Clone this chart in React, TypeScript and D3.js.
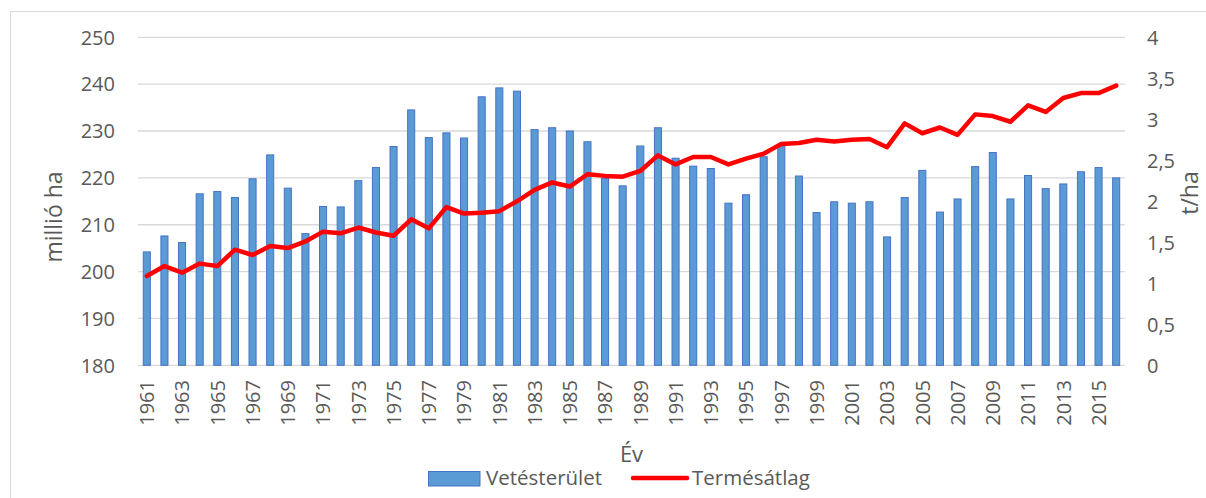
import React from "react";
import * as d3 from "d3";

const years: number[] = d3.range(1961, 2017);
const area: number[] = [
  204.2, 207.6, 206.2, 216.6, 217.1, 215.8, 219.8, 224.9, 217.8, 208.1,
  213.9, 213.8, 219.4, 222.2, 226.7, 234.5, 228.6, 229.6, 228.5, 237.3,
  239.2, 238.5, 230.3, 230.7, 230.0, 227.7, 219.9, 218.3, 226.8, 230.7,
  224.2, 222.5, 222.0, 214.6, 216.4, 224.5, 226.8, 220.4, 212.6, 214.9,
  214.6, 214.9, 207.4, 215.8, 221.6, 212.7, 215.5, 222.4, 225.4, 215.5,
  220.5, 217.7, 218.7, 221.3, 222.2, 220.0,
];
const yieldAvg: number[] = [
  1.09, 1.21, 1.13, 1.24, 1.21, 1.41, 1.345, 1.455, 1.43, 1.51,
  1.63, 1.61, 1.68, 1.62, 1.58, 1.78, 1.67, 1.93, 1.85, 1.86,
  1.88, 2.0, 2.14, 2.23, 2.18, 2.33, 2.31, 2.3, 2.37, 2.56,
  2.45, 2.54, 2.54, 2.45, 2.52, 2.58, 2.7, 2.71, 2.75, 2.73,
  2.75, 2.76, 2.66, 2.95, 2.83, 2.9, 2.81, 3.06, 3.04, 2.97,
  3.17, 3.09, 3.26, 3.32, 3.32, 3.41,
];
const leftTicks: number[] = [180, 190, 200, 210, 220, 230, 240, 250];
const rightTicks: number[] = [0, 0.5, 1, 1.5, 2, 2.5, 3, 3.5, 4];
const labelYears: number[] = years.filter((y) => (y - 1961) % 2 === 0);

const W = 1206;
const H = 498;
const FONT = "'Open Sans', sans-serif";
const TXT = "#595959";

export default function App() {
  const x = d3
    .scaleBand<number>()
    .domain(years)
    .range([138, 1125])
    .paddingInner(0.6)
    .paddingOuter(0.3);
  const yL = d3.scaleLinear().domain([180, 250]).range([365.3, 37.3]);
  const yR = d3.scaleLinear().domain([0, 4]).range([365.3, 37.3]);
  const cx = (yr: number) => (x(yr) as number) + x.bandwidth() / 2;

  const line = d3
    .line<number>()
    .x((_, i) => cx(years[i]))
    .y((d) => yR(d))
    .curve(d3.curveLinear);

  const fmt = (v: number) => String(v).replace(".", ",");

  return (
    <svg
      width={W}
      height={H}
      style={{ position: "absolute", left: 0, top: 0, background: "#fff" }}
      fontFamily={FONT}
    >
      <rect x={10.5} y={11.5} width={W} height={H} fill="#fff" stroke="#d9d9d9" strokeWidth={1} />
      {leftTicks.map((t) => (
        <line key={"g" + t} x1={138} x2={1125} y1={yL(t)} y2={yL(t)} stroke="#d9d9d9" strokeWidth={1.3} />
      ))}
      {leftTicks.map((t) => (
        <text key={"l" + t} x={115} y={yL(t)} dy="0.36em" textAnchor="end" fontSize={20} fill={TXT}>
          {t}
        </text>
      ))}
      {rightTicks.map((t) => (
        <text key={"r" + t} x={1147} y={yR(t)} dy="0.36em" textAnchor="start" fontSize={20} fill={TXT}>
          {fmt(t)}
        </text>
      ))}
      {years.map((yr, i) => (
        <rect
          key={"b" + yr}
          x={x(yr)}
          y={yL(area[i])}
          width={x.bandwidth()}
          height={yL(180) - yL(area[i])}
          fill="#5b9bd5"
          stroke="#4472c4"
          strokeWidth={1}
        />
      ))}
      <path d={line(yieldAvg) || ""} fill="none" stroke="#ff0000" strokeWidth={4.5} strokeLinejoin="round" strokeLinecap="round" />
      {labelYears.map((yr) => (
        <text
          key={"x" + yr}
          transform={`translate(${cx(yr)},380) rotate(-90)`}
          dy="0.36em"
          textAnchor="end"
          fontSize={20}
          fill={TXT}
        >
          {yr}
        </text>
      ))}
      <text x={54} y={217} transform="rotate(-90,54,217)" dy="0.36em" textAnchor="middle" fontSize={23} fill={TXT}>
        millió ha
      </text>
      <text x={1190} y={193} transform="rotate(-90,1190,193)" dy="0.36em" textAnchor="middle" fontSize={23} fill={TXT}>
        t/ha
      </text>
      <text x={631.5} y={462} textAnchor="middle" fontSize={22} fill={TXT}>
        Év
      </text>
      <rect x={428.5} y={471.5} width={51.5} height={14.5} fill="#5b9bd5" stroke="#4472c4" strokeWidth={1} />
      <text x={486} y={478} dy="0.36em" fontSize={20.5} fill={TXT}>
        Vetésterület
      </text>
      <line x1={633} x2={687} y1={478} y2={478} stroke="#ff0000" strokeWidth={4.5} strokeLinecap="round" />
      <text x={692} y={478} dy="0.36em" fontSize={20.5} fill={TXT}>
        Termésátlag
      </text>
    </svg>
  );
}
